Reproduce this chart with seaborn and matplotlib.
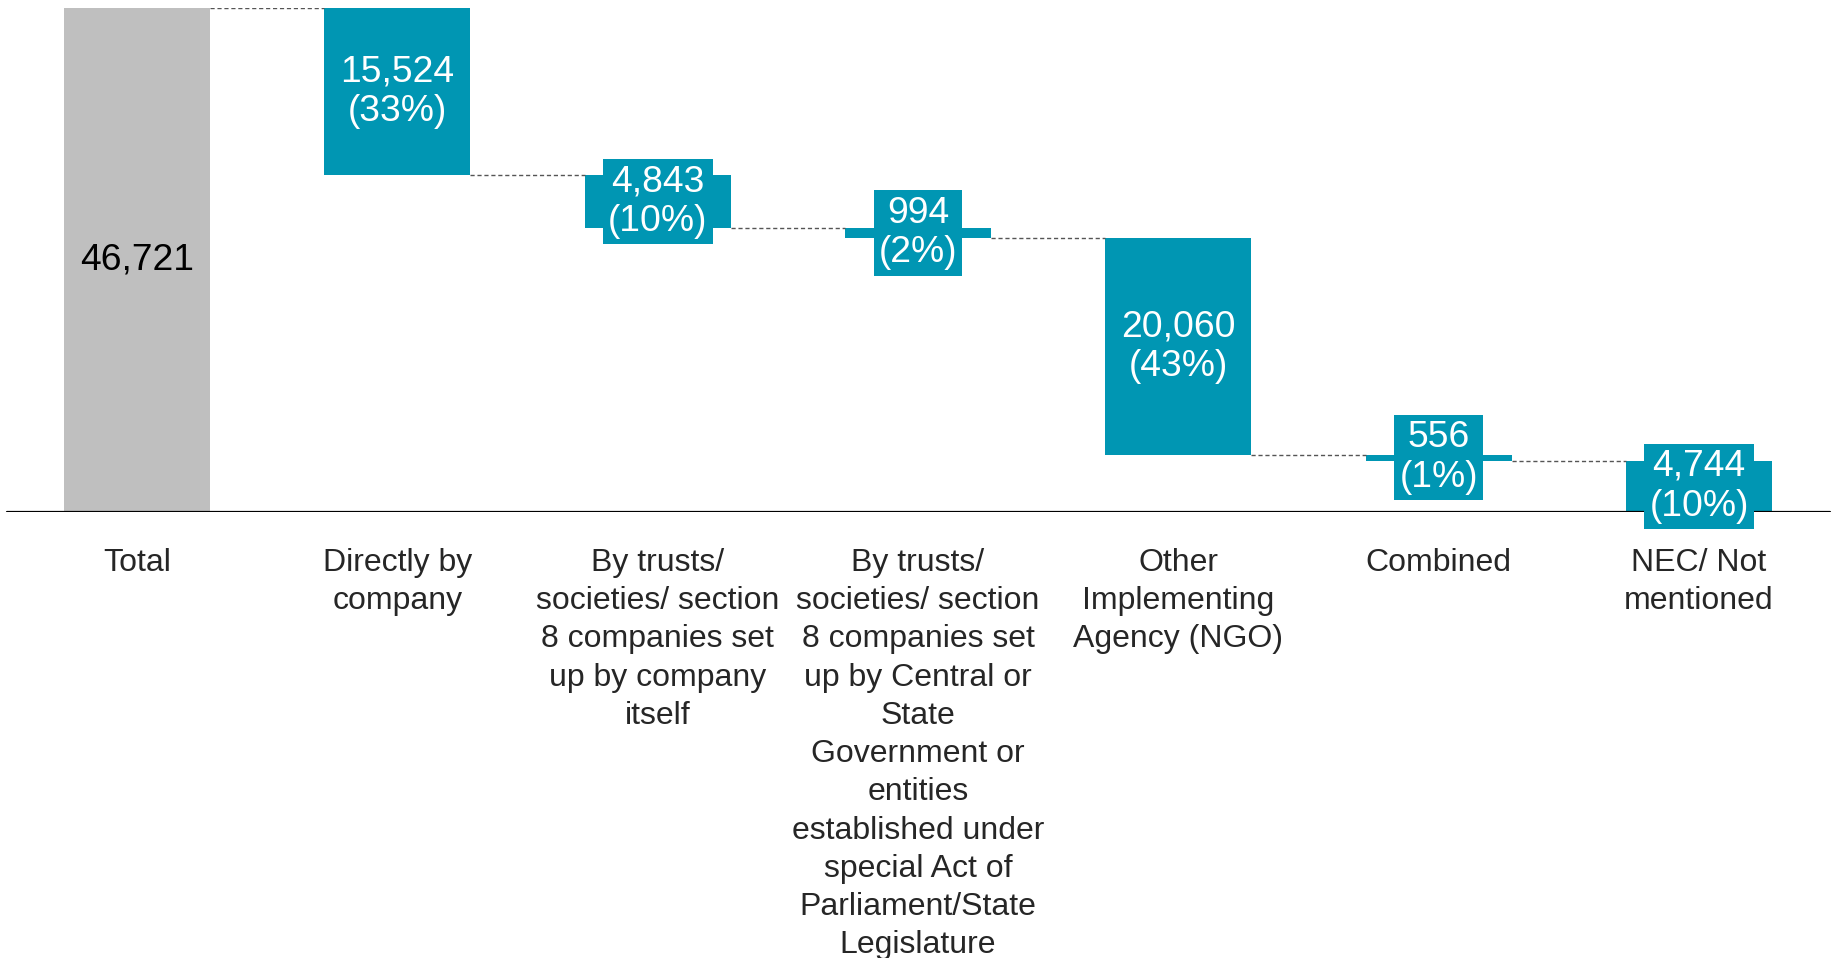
import matplotlib
matplotlib.use("Agg")
import matplotlib.pyplot as plt
import seaborn as sns
import numpy as np
import pandas as pd

categories = [
    "Total",
    "Directly by\ncompany",
    "By trusts/\nsocieties/ section\n8 companies set\nup by company\nitself",
    "By trusts/\nsocieties/ section\n8 companies set\nup by Central or\nState\nGovernment or\nentities\nestablished under\nspecial Act of\nParliament/State\nLegislature",
    "Other\nImplementing\nAgency (NGO)",
    "Combined",
    "NEC/ Not\nmentioned",
]
total_value = 46721
step_values = [15524, 4843, 994, 20060, 556, 4744]
step_pcts = [33, 10, 2, 43, 1, 10]

TEAL = "#0096B3"
GRAY = "#BFBFBF"

sns.set_style("white")
plt.rcParams["font.family"] = ["Liberation Sans", "DejaVu Sans"]

heights = [total_value] + step_values
bottoms = [0]
level = total_value
for v in step_values:
    level -= v
    bottoms.append(level)

df = pd.DataFrame({"cat": categories, "height": heights})

fig = plt.figure(figsize=(18.37, 9.58), dpi=100)
ax = fig.add_axes([0, (958 - 512) / 958, 1, 504 / 958])

sns.barplot(data=df, x="cat", y="height", order=categories, color=TEAL,
            bottom=bottoms, width=0.56, errorbar=None, saturation=1,
            linewidth=0, ax=ax, zorder=1)
ax.patches[0].set_facecolor(GRAY)

ax.set_xlim(-0.526, 6.530)
ax.set_ylim(0, total_value)
for s in ax.spines.values():
    s.set_visible(False)
ax.set_yticks([])
ax.set_xlabel("")
ax.set_ylabel("")
ax.set_xticks(range(len(categories)))
ax.set_xticklabels(categories, fontsize=23, linespacing=1.36, multialignment="center")
ax.tick_params(axis="x", length=0, pad=25.7)

ax.axhline(0, xmin=7 / 1837, xmax=1830 / 1837, color="black", lw=1.6, zorder=3)

# connectors
half = 0.28
for i in range(len(categories) - 1):
    yv = total_value if i == 0 else bottoms[i]
    ax.plot([i + half, i + 1 - half], [yv, yv], color="#555555", lw=1,
            ls=(0, (3, 2)), zorder=2)

# labels
ax.text(0, total_value / 2, f"{total_value:,}", ha="center", va="center",
        fontsize=26.8, color="black", zorder=5)
for i, (v, p) in enumerate(zip(step_values, step_pcts), start=1):
    mid = bottoms[i] + v / 2
    ax.text(i, mid, f"{v:,}\n({p}%)", ha="center", va="center", fontsize=26.8,
            color="white", linespacing=1.18, zorder=5, clip_on=False,
            bbox=dict(boxstyle="square,pad=0.14", fc=TEAL, ec="none"))

fig.savefig("out.png", dpi=100)
